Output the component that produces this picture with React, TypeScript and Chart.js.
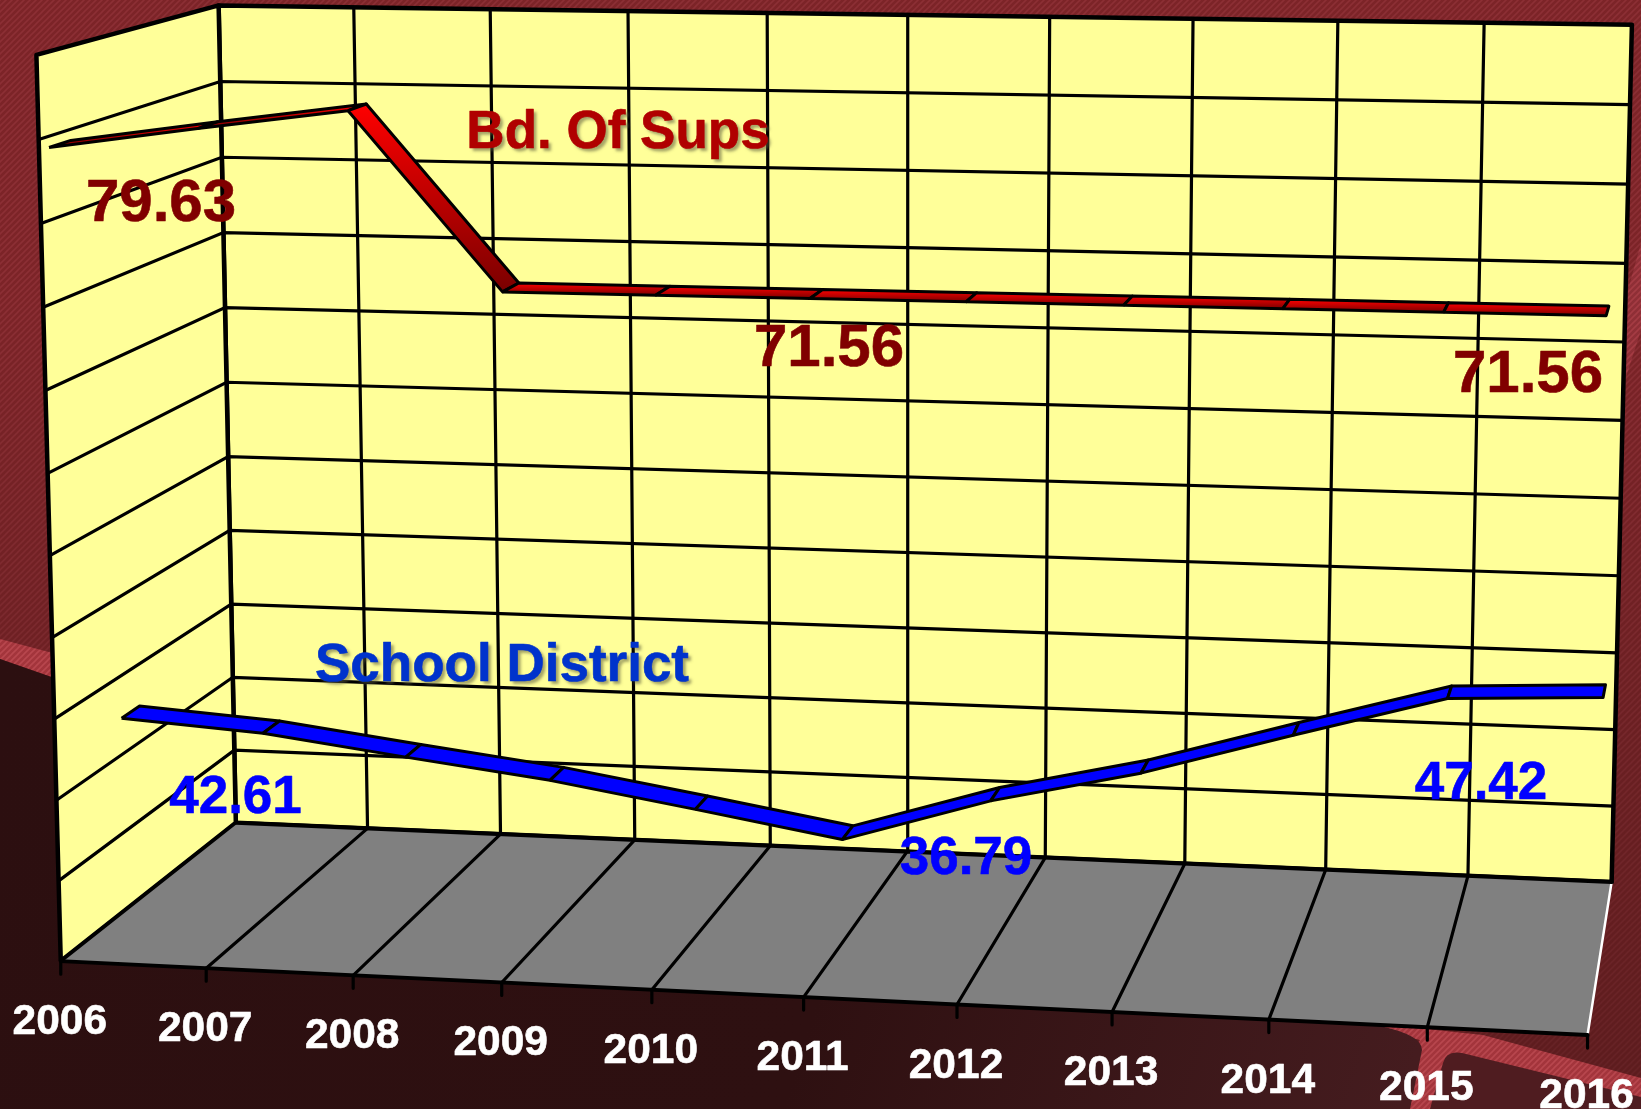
import React, { useEffect, useRef } from "react";
import { Chart, registerables } from "chart.js";

Chart.register(...registerables);

const W = 1641;
const H = 1109;

const years = ["2006","2007","2008","2009","2010","2011","2012","2013","2014","2015","2016"];
const bdOfSups = [79.63, 80.9, 82.1, 71.56, 71.56, 71.56, 71.56, 71.56, 71.56, 71.56, 71.56];
const schoolDistrict = [42.61, 42.0, 40.85, 39.75, 38.3, 36.79, 39.6, 41.7, 44.4, 47.0, 47.42];
const axisMin = 30.3;
const axisStep = 5;
const axisIntervals = 11;

// depth of each ribbon along the categories (0 = front, 1 = back wall)
const redDepth = [0.05, 0.09];
const blueDepth = [0.35, 0.35];
const redWidth = 0.11;
const blueWidth = 0.1;

// measured box corners: [u, w, z, px, py]
const corners = [
  [0, 0, 0, 60.7, 961],
  [1, 0, 0, 1587, 1036],
  [0, 0, 1, 236, 823],
  [1, 0, 1, 1612, 881],
  [0, 1, 1, 218, 6],
  [1, 1, 1, 1632, 25],
  [0, 1, 0, 37, 54],
];

function solveCamera(): number[] {
  const rows: number[][] = [];
  const rhs: number[] = [];
  for (const [u, w, z, px, py] of corners) {
    rows.push([u, w, z, 1, 0, 0, 0, 0, -px * u, -px * w, -px * z]);
    rhs.push(px);
    rows.push([0, 0, 0, 0, u, w, z, 1, -py * u, -py * w, -py * z]);
    rhs.push(py);
  }
  const n = 11;
  const m: number[][] = [];
  for (let a = 0; a < n; a++) {
    const row = new Array(n + 1).fill(0);
    for (let b = 0; b < n; b++) rows.forEach((r) => (row[b] += r[a] * r[b]));
    rows.forEach((r, k) => (row[n] += r[a] * rhs[k]));
    m.push(row);
  }
  for (let c = 0; c < n; c++) {
    let p = c;
    for (let r = c + 1; r < n; r++) if (Math.abs(m[r][c]) > Math.abs(m[p][c])) p = r;
    [m[c], m[p]] = [m[p], m[c]];
    for (let r = 0; r < n; r++) {
      if (r === c) continue;
      const f = m[r][c] / m[c][c];
      for (let k = c; k <= n; k++) m[r][k] -= f * m[c][k];
    }
  }
  return m.map((row, i) => row[n] / row[i]);
}
const cam = solveCamera();

function project(i: number, v: number, z: number) {
  const u = i / (years.length - 1);
  const w = v / axisIntervals;
  const d = cam[8] * u + cam[9] * w + cam[10] * z + 1;
  return {
    x: (cam[0] * u + cam[1] * w + cam[2] * z + cam[3]) / d,
    y: (cam[4] * u + cam[5] * w + cam[6] * z + cam[7]) / d,
  };
}
const level = (val: number) => (val - axisMin) / axisStep;

const line = (pts: { x: number; y: number }[], width: number, color = "#000") => ({
  type: "scatter" as const,
  data: pts,
  showLine: true,
  borderColor: color,
  borderWidth: width,
  pointRadius: 0,
  fill: false,
  clip: false,
  tension: 0,
  borderCapStyle: "round" as const,
});
const poly = (pts: { x: number; y: number }[], fillColor: any, width: number) => ({
  type: "scatter" as const,
  data: [...pts, pts[0]],
  showLine: true,
  borderColor: "#000",
  borderWidth: width,
  backgroundColor: fillColor,
  pointRadius: 0,
  fill: "shape",
  clip: false,
  tension: 0,
  borderJoinStyle: "round" as const,
});

function ribbon(values: number[], depth: number[], width: number, fillFor: (a: any, b: any) => any) {
  const out: any[] = [];
  const last = values.length - 1;
  const zAt = (i: number) => depth[0] + ((depth[1] - depth[0]) * i) / last;
  for (let i = 0; i < last; i++) {
    const v0 = level(values[i]);
    const v1 = level(values[i + 1]);
    const a = project(i, v0, zAt(i));
    const b = project(i + 1, v1, zAt(i + 1));
    const c = project(i + 1, v1, zAt(i + 1) + width);
    const d = project(i, v0, zAt(i) + width);
    out.push(poly([a, b, c, d], fillFor([a, b], [c, d]), 3));
  }
  return out;
}

const texts = [
  { t: "Bd. Of Sups", x: 618, y: 148, size: 53, color: "#B00000", shadow: true },
  { t: "79.63", x: 161, y: 221, size: 60, color: "#800000", shadow: false },
  { t: "71.56", x: 829, y: 366, size: 60, color: "#800000", shadow: false },
  { t: "71.56", x: 1528, y: 392, size: 60, color: "#800000", shadow: false },
  { t: "School District", x: 502, y: 681, size: 53, color: "#0033CC", shadow: true },
  { t: "42.61", x: 235.5, y: 813, size: 53, color: "#0000FF", shadow: false },
  { t: "36.79", x: 966, y: 874, size: 53, color: "#0000FF", shadow: false },
  { t: "47.42", x: 1481, y: 798.5, size: 53, color: "#0000FF", shadow: false },
];

function hatch(ctx: CanvasRenderingContext2D, base: string, stripe: string) {
  const c = document.createElement("canvas");
  c.width = 6;
  c.height = 6;
  const g = c.getContext("2d")!;
  g.fillStyle = base;
  g.fillRect(0, 0, 6, 6);
  g.strokeStyle = stripe;
  g.lineWidth = 1.6;
  g.beginPath();
  g.moveTo(-1, 7);
  g.lineTo(7, -1);
  g.moveTo(-1, 1);
  g.lineTo(1, -1);
  g.moveTo(5, 7);
  g.lineTo(7, 5);
  g.stroke();
  return ctx.createPattern(c, "repeat")!;
}

const backdrop = {
  id: "backdrop",
  beforeDraw(chart: any) {
    const ctx: CanvasRenderingContext2D = chart.ctx;
    ctx.save();
    const shape = (pts: number[][], fill: any) => {
      ctx.fillStyle = fill;
      ctx.beginPath();
      pts.forEach(([x, y], i) => (i ? ctx.lineTo(x, y) : ctx.moveTo(x, y)));
      ctx.closePath();
      ctx.fill();
    };
    ctx.fillStyle = hatch(ctx, "#7c2428", "#8c2f35");
    ctx.fillRect(0, 0, W, H);
    const fade = ctx.createLinearGradient(0, 300, 0, H);
    fade.addColorStop(0, "rgba(60,20,20,0)");
    fade.addColorStop(1, "rgba(60,20,20,0.5)");
    ctx.fillStyle = fade;
    ctx.fillRect(0, 0, W, H);
    const pink = hatch(ctx, "#a3353c", "#b8474e");
    shape([[1641, 243], [1641, 330], [1626, 377], [1628, 290]], hatch(ctx, "#8f2f36", "#a53c44"));
    shape([[0, 639], [60, 655], [60, 680], [0, 659]], pink);
    shape([[1340, 1020], [1483, 1035], [1641, 1078], [1641, 1109], [1380, 1109], [1420, 1040]], pink);
    const dark = ctx.createLinearGradient(0, 660, 1400, 1109);
    dark.addColorStop(0, "#2c0f10");
    dark.addColorStop(0.6, "#2e1011");
    dark.addColorStop(1, "#451c1f");
    ctx.fillStyle = dark;
    ctx.beginPath();
    ctx.moveTo(0, 659);
    ctx.lineTo(60, 680);
    ctx.lineTo(60, 960);
    ctx.lineTo(1380, 1026);
    ctx.quadraticCurveTo(1422, 1035, 1422, 1050);
    ctx.lineTo(1410, 1109);
    ctx.lineTo(0, 1109);
    ctx.closePath();
    ctx.fill();
    ctx.fillStyle = "#4f1c20";
    ctx.beginPath();
    ctx.moveTo(1443, 1063);
    ctx.quadraticCurveTo(1446, 1050, 1462, 1053);
    ctx.lineTo(1641, 1097);
    ctx.lineTo(1641, 1109);
    ctx.lineTo(1430, 1109);
    ctx.closePath();
    ctx.fill();
    ctx.restore();
  },
};

const labels = {
  id: "labels",
  afterDatasetsDraw(chart: any) {
    const ctx: CanvasRenderingContext2D = chart.ctx;
    const sx = chart.scales.x;
    const sy = chart.scales.y;
    ctx.save();
    ctx.textAlign = "center";
    ctx.textBaseline = "alphabetic";
    ctx.lineJoin = "round";
    years.forEach((yr, i) => {
      const p = project(i, 0, 0);
      ctx.font = 'bold 42.5px "Liberation Sans"';
      ctx.fillStyle = "#fff";
      ctx.strokeStyle = "#fff";
      ctx.lineWidth = 0.6;
      const px = sx.getPixelForValue(p.x) - 1;
      const py = sy.getPixelForValue(p.y) + 73;
      ctx.fillText(yr, px, py);
      ctx.strokeText(yr, px, py);
    });
    for (const l of texts) {
      ctx.font = `bold ${l.size}px "Liberation Sans"`;
      if (l.shadow) {
        ctx.shadowColor = "rgba(90,90,60,0.55)";
        ctx.shadowBlur = 3;
        ctx.shadowOffsetX = 3;
        ctx.shadowOffsetY = 3;
      } else {
        ctx.shadowColor = "transparent";
      }
      ctx.fillStyle = l.color;
      ctx.strokeStyle = l.color;
      ctx.lineWidth = 0.6;
      const px = sx.getPixelForValue(l.x);
      const py = sy.getPixelForValue(l.y);
      ctx.fillText(l.t, px, py);
      ctx.shadowColor = "transparent";
      ctx.strokeText(l.t, px, py);
    }
    ctx.restore();
  },
};

export default function App() {
  const ref = useRef<HTMLCanvasElement>(null);
  useEffect(() => {
    document.body.style.margin = "0";
    const canvas = ref.current!;
    const ctx = canvas.getContext("2d")!;
    const datasets: any[] = [];
    const n = years.length - 1;
    // walls and floor
    datasets.push(poly([project(0,0,1), project(n,0,1), project(n,axisIntervals,1), project(0,axisIntervals,1)], "#FFFF99", 4.5));
    datasets.push(poly([project(0,0,0), project(0,0,1), project(0,axisIntervals,1), project(0,axisIntervals,0)], "#FFFF99", 4.5));
    datasets.push({ ...poly([project(0,0,0), project(n,0,0), project(n,0,1), project(0,0,1)], "#808080", 0), borderWidth: 0 });
    // grid
    for (let v = 1; v < axisIntervals; v++) {
      datasets.push(line([project(0,v,0), project(0,v,1), project(n,v,1)], 3.2));
    }
    for (let i = 1; i < n; i++) {
      datasets.push(line([project(i,0,0), project(i,0,1), project(i,axisIntervals,1)], 3.2));
    }
    // floor edges and ticks
    datasets.push(line([project(n,0,0), project(n,0,1)], 2.5, "#fff"));
    datasets.push(line([project(0,0,0), project(n,0,0)], 4));
    datasets.push(line([project(0,0,1), project(n,0,1)], 4));
    datasets.push(line([project(0,0,0), project(0,0,1)], 3.2));
    for (let i = 0; i <= n; i++) {
      const p = project(i,0,0);
      datasets.push(line([p, { x: p.x, y: p.y + 13 }], 3.2));
    }
    // ribbons
    const redFill = (a: any[], b: any[]) => {
      const top = Math.min(a[0].y, a[1].y, b[0].y, b[1].y);
      const bot = Math.max(a[0].y, a[1].y, b[0].y, b[1].y);
      const g = ctx.createLinearGradient(0, top, 0, bot);
      g.addColorStop(0, "#FF0000");
      g.addColorStop(1, "#7a0000");
      return g;
    };
    datasets.push(...ribbon(bdOfSups, redDepth, redWidth, redFill));
    datasets.push(...ribbon(schoolDistrict, blueDepth, blueWidth, () => "#0000FF"));
    datasets.reverse(); // Chart.js paints the first dataset last

    const chart = new Chart(canvas, {
      type: "scatter",
      data: { datasets },
      options: {
        animation: false,
        responsive: false,
        events: [],
        layout: { padding: 0 },
        plugins: { legend: { display: false }, tooltip: { enabled: false }, title: { display: false } },
        scales: {
          x: { type: "linear", min: 0, max: W, display: false },
          y: { type: "linear", min: 0, max: H, reverse: true, display: false },
        },
      },
      plugins: [backdrop, labels],
    } as any);
    return () => chart.destroy();
  }, []);
  return <canvas ref={ref} width={W} height={H} style={{ display: "block" }} />;
}
